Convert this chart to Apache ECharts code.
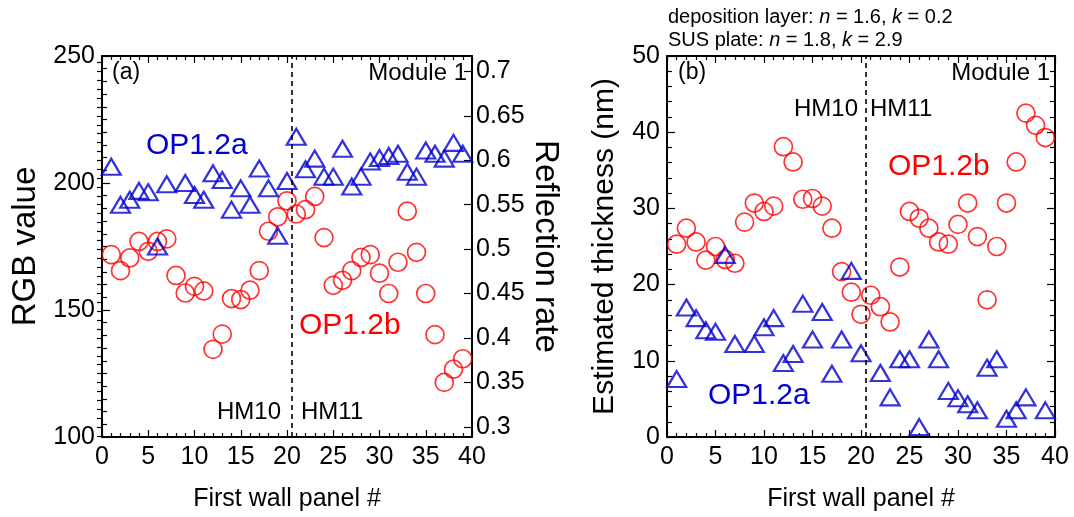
<!DOCTYPE html>
<html><head><meta charset="utf-8">
<script src="https://cdn.jsdelivr.net/npm/echarts@6/dist/echarts.min.js"></script>
<style>html,body{margin:0;padding:0;background:#fff}#c{width:1074px;height:517px}</style>
</head><body><div id="c"></div>
<script>
// ---- data ----
const xAll = [1,2,3,4,5,6,7,8,9,10,11,12,13,14,15,16,17,18,19,20,21,22,23,24,25,26,27,28,29,30,31,32,33,34,35,36,37,38,39];
const rgbOP12b = [171.8,165.5,170.5,177,173.1,177,178,163.6,156.7,159.3,157.5,134.5,140.5,154.5,154.1,157.8,165.5,181,186.7,193,187.8,189.5,194.7,178.5,159.7,161.7,165.5,170.7,171.8,164.5,156.5,168.8,188.9,172.7,156.5,140.3,121.5,126.7,130.8];
const xTriA = [1,2,3,4,5,6,7,9,10,11,12,13,14,15,16,17,18,19,20,21,22,23,24,25,26,27,28,29,30,31,32,33,34,35,36,37,38,39];
const rgbOP12a = [206.4,191.4,193.4,196.9,196.4,175,199.5,200,195.3,193.4,203.8,201.2,189.5,197.9,191.4,205.7,197.9,179.2,200.8,218.2,205.4,209.6,202.5,202.5,213.5,198.6,202.5,208.5,209.8,210.6,211.5,204.4,202.5,212.8,211.5,209.6,215.8,211.5];
const thkOP12b = [25.3,27.4,25.6,23.2,25.0,23.3,22.8,28.2,30.7,29.6,30.3,38.1,36.1,31.2,31.3,30.3,27.4,21.7,19.0,16.1,18.6,17.1,15.1,22.3,29.6,28.7,27.4,25.6,25.3,27.9,30.7,26.3,18.0,25.0,30.7,36.1,42.5,40.9,39.3];
const xTriB = [1,2,3,4,5,6,7,9,10,11,12,13,14,15,16,17,18,19,20,22,23,24,25,26,27,28,29,30,31,32,33,34,35,36,37,39];
const thkOP12a = [7.6,17.0,15.6,14.0,13.8,23.9,12.2,12.2,14.4,15.6,9.7,10.9,17.5,12.8,16.4,8.3,12.8,21.8,11.0,8.4,5.2,10.2,10.2,1.3,12.8,10.2,6.05,5.1,4.3,3.5,9.1,10.2,2.4,3.5,5.2,3.5];
const reflTicks = [0.3,0.35,0.4,0.45,0.5,0.55,0.6,0.65,0.7];
const reflMinor = [0.29,0.3,0.31,0.32,0.33,0.34,0.35,0.36,0.37,0.38,0.39,0.4,0.41,0.42,0.43,0.44,0.45,0.46,0.47,0.48,0.49,0.5,0.51,0.52,0.53,0.54,0.55,0.56,0.57,0.58,0.59,0.6,0.61,0.62,0.63,0.64,0.65,0.66,0.67,0.68,0.69,0.7,0.71];
const boundaryX = 20.5;

const FONT = 'Liberation Sans';
const TICKFS = 25;
const BLUE = '#0000d0', RED = '#ff0000';
const pairs = (xs, ys) => xs.map((x, i) => [x, ys[i]]);

const lineStyle = {color:'#000', width:2};
function xAx(grid, pos, labels, name) {
  return {
    type:'value', gridIndex:grid, position:pos, min:0, max:40, interval:5,
    axisLine:{show:true, onZero:false, lineStyle},
    axisTick:{show:true, inside:true, length:7, lineStyle:{color:'#000', width:1.2}},
    minorTick:{show:true, splitNumber:5, length:4, lineStyle:{color:'#000', width:1.2}},
    axisLabel:{show:labels, fontFamily:FONT, fontSize:TICKFS, color:'#000', margin:8},
    splitLine:{show:false},
    name: name || '', nameLocation:'middle', nameGap:50,
    nameTextStyle:{fontFamily:FONT, fontSize:25, color:'#000'}
  };
}
function yAx(grid, pos, min, max, interval, minorSplit, labels, name, gap, rot, nameSize) {
  return {
    type:'value', gridIndex:grid, position:pos, min, max, interval,
    axisLine:{show:true, onZero:false, lineStyle},
    axisTick:{show:true, inside:true, length:8, lineStyle:{color:'#000', width:1.2}},
    minorTick:{show:true, splitNumber:minorSplit, length:5, lineStyle:{color:'#000', width:1.2}},
    axisLabel:{show:labels, fontFamily:FONT, fontSize:TICKFS, color:'#000', margin:7},
    splitLine:{show:false},
    name: name || '', nameLocation:'middle', nameGap:gap || 0, nameRotate:rot,
    nameTextStyle:{fontFamily:FONT, fontSize:nameSize || 32, color:'#000'}
  };
}

const option = {
  animation:false,
  backgroundColor:'#fff',
  grid:[
    {left:102, top:56, width:370, height:386},
    {left:667, top:56, width:388, height:386}
  ],
  xAxis:[
    xAx(0,'bottom',true,'First wall panel #'),
    xAx(0,'top',false),
    xAx(1,'bottom',true,'First wall panel #'),
    xAx(1,'top',false)
  ],
  yAxis:[
    yAx(0,'left',100,250,50,10,true,'RGB value',60,90,33),
    {
      type:'value', gridIndex:0, position:'right', min:0.2886, max:0.7174,
      axisLine:{show:true, onZero:false, lineStyle},
      axisTick:{show:true, inside:true, length:8, customValues:reflTicks, lineStyle:{color:'#000', width:1.2}},
      axisLabel:{show:true, customValues:reflTicks, fontFamily:FONT, fontSize:TICKFS, color:'#000', margin:4,
        formatter:v => String(+v.toFixed(2))},
      splitLine:{show:false},
      name:'Reflection rate', nameLocation:'middle', nameGap:57, nameRotate:-90,
      nameTextStyle:{fontFamily:FONT, fontSize:33, color:'#000'}
    },
    {
      type:'value', gridIndex:0, position:'right', min:0.2886, max:0.7174,
      axisLine:{show:false},
      axisTick:{show:true, inside:true, length:5, customValues:reflMinor, lineStyle:{color:'#000', width:1.2}},
      axisLabel:{show:false}, splitLine:{show:false}
    },
    yAx(1,'left',0,50,10,5,true,'Estimated thickness (nm)',47,90,30),
    yAx(1,'right',0,50,10,5,false)
  ],
  graphic:[
    {type:'text', left:112, top:61, style:{text:'(a)', font:'23px "Liberation Sans"', fill:'#000'}},
    {type:'text', right:1074-467, top:61, style:{text:'Module 1', font:'24px "Liberation Sans"', fill:'#000', textAlign:'right'}},
    {type:'text', left:146, top:131, style:{text:'OP1.2a', font:'30px "Liberation Sans"', fill:BLUE}},
    {type:'text', left:299, top:311, style:{text:'OP1.2b', font:'30px "Liberation Sans"', fill:RED}},
    {type:'text', left:217, top:400, style:{text:'HM10', font:'24px "Liberation Sans"', fill:'#000'}},
    {type:'text', left:301, top:400, style:{text:'HM11', font:'24px "Liberation Sans"', fill:'#000'}},
    {type:'text', left:678, top:61, style:{text:'(b)', font:'23px "Liberation Sans"', fill:'#000'}},
    {type:'text', right:1074-1050, top:61, style:{text:'Module 1', font:'24px "Liberation Sans"', fill:'#000', textAlign:'right'}},
    {type:'text', left:794, top:97, style:{text:'HM10', font:'24px "Liberation Sans"', fill:'#000'}},
    {type:'text', left:870, top:97, style:{text:'HM11', font:'24px "Liberation Sans"', fill:'#000'}},
    {type:'text', left:888, top:152, style:{text:'OP1.2b', font:'30px "Liberation Sans"', fill:RED}},
    {type:'text', left:708, top:381, style:{text:'OP1.2a', font:'30px "Liberation Sans"', fill:BLUE}},
    {type:'text', left:668, top:7, style:{
      text:'{a|deposition layer: }{i|n}{a| = 1.6, }{i|k}{a| = 0.2}',
      rich:{a:{fontFamily:FONT, fontSize:20, color:'#000'}, i:{fontFamily:FONT, fontSize:20, fontStyle:'italic', color:'#000'}}}},
    {type:'text', left:668, top:30, style:{
      text:'{a|SUS plate: }{i|n}{a| = 1.8, }{i|k}{a| = 2.9}',
      rich:{a:{fontFamily:FONT, fontSize:20, color:'#000'}, i:{fontFamily:FONT, fontSize:20, fontStyle:'italic', color:'#000'}}}}
  ],
  series:[
    {type:'scatter', xAxisIndex:0, yAxisIndex:0, data:pairs(xAll, rgbOP12b), symbol:'circle', symbolSize:18,
      itemStyle:{color:'rgba(0,0,0,0)', borderColor:RED, borderWidth:1.7}, z:3,
      markLine:{silent:true, symbol:'none', label:{show:false},
        lineStyle:{color:'#000', type:[5,4], width:1.6}, data:[{xAxis:boundaryX}]}},
    {type:'scatter', xAxisIndex:0, yAxisIndex:0, data:pairs(xTriA, rgbOP12a), symbol:'triangle', symbolSize:[19,16],
      itemStyle:{color:'rgba(0,0,0,0)', borderColor:BLUE, borderWidth:2.2}, z:4},
    {type:'scatter', xAxisIndex:2, yAxisIndex:3, data:pairs(xAll, thkOP12b), symbol:'circle', symbolSize:18,
      itemStyle:{color:'rgba(0,0,0,0)', borderColor:RED, borderWidth:1.7}, z:3,
      markLine:{silent:true, symbol:'none', label:{show:false},
        lineStyle:{color:'#000', type:[5,4], width:1.6}, data:[{xAxis:boundaryX}]}},
    {type:'scatter', xAxisIndex:2, yAxisIndex:3, data:pairs(xTriB, thkOP12a), symbol:'triangle', symbolSize:[19,16],
      itemStyle:{color:'rgba(0,0,0,0)', borderColor:BLUE, borderWidth:2.2}, z:4}
  ]
};
const chart = echarts.init(document.getElementById('c'), null, {renderer:'canvas'});
chart.setOption(option);
</script>
</body></html>
